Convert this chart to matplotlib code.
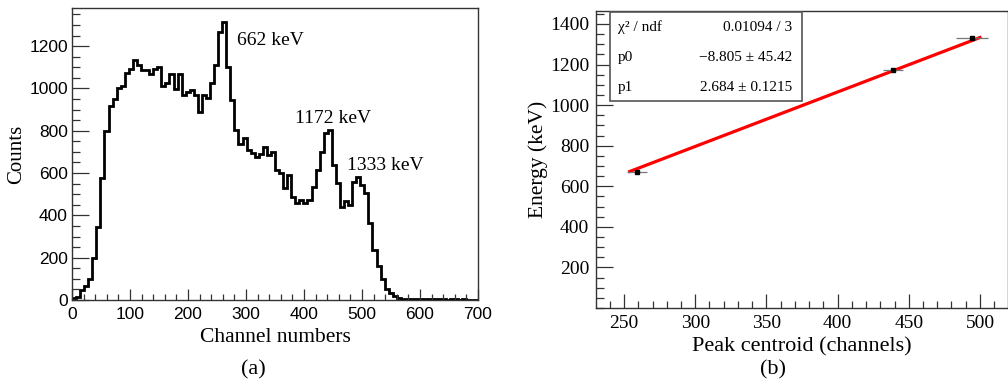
import numpy as np
import matplotlib
matplotlib.use("Agg")
import matplotlib.pyplot as plt
from matplotlib.patches import Rectangle
from matplotlib.ticker import MultipleLocator

# (a) spectrum: 100 bins over 0-700 channels
counts = [
    8, 12, 47, 66, 97, 197, 343, 575, 800, 917,
    950, 1000, 1013, 1071, 1090, 1134, 1110, 1085, 1085, 1070,
    1090, 1102, 1011, 1027, 1068, 995, 1068, 969, 985, 992,
    969, 890, 969, 953, 1024, 1110, 1268, 1315, 1102, 945,
    803, 737, 764, 709, 696, 674, 690, 721, 685, 700,
    614, 598, 528, 590, 488, 457, 472, 457, 472, 535,
    614, 700, 787, 803, 638, 551, 441, 470, 449, 559,
    583, 543, 504, 362, 238, 160, 100, 52, 35, 19,
    8, 5, 4, 3, 3, 6, 3, 5, 4, 3,
    3, 3, 2, 3, 3, 2, 3, 2, 2, 2,
]
channel_range = (0, 700)
peak_labels = ["662 keV", "1172 keV", "1333 keV"]
peak_label_pos = [(285, 1225), (384, 860), (474, 638)]

# (b) calibration
centroids = [259.0, 439.0, 494.5]
centroid_err = [7.0, 7.0, 11.0]
energies = [670, 1174, 1331]
p0, p0_err = -8.805, 45.42
p1, p1_err = 2.684, 0.1215
chi2, ndf = 0.01094, 3
fit_range = (254, 500)

SANS = ["Liberation Sans", "DejaVu Sans"]
SERIF = ["Liberation Serif", "DejaVu Serif"]
W, H = 1008, 383

fig = plt.figure(figsize=(W / 100, H / 100), dpi=100)


def px_axes(x0, y0, x1, y1):
    return fig.add_axes([x0 / W, 1 - y1 / H, (x1 - x0) / W, (y1 - y0) / H])


def root_style(ax, font, major_len, minor_len):
    for side in ["left", "bottom", "top", "right"]:
        ax.spines[side].set_color("#333333")
        ax.spines[side].set_linewidth(1.0)
    ax.tick_params(which="both", direction="in", top=False, right=False,
                   color="#333333", width=0.9)
    ax.tick_params(which="major", length=major_len, pad=5)
    ax.tick_params(which="minor", length=minor_len)
    for lab in ax.get_xticklabels() + ax.get_yticklabels():
        lab.set_family(font)


# ---- (a) ----
ax1 = px_axes(72, 8, 478, 300)
edges = np.linspace(channel_range[0], channel_range[1], len(counts) + 1)
ax1.stairs(counts, edges, color="black", linewidth=2.0)
ax1.set_xlim(*channel_range)
ax1.set_ylim(0, 1380)
ax1.xaxis.set_major_locator(MultipleLocator(100))
ax1.xaxis.set_minor_locator(MultipleLocator(20))
ax1.yaxis.set_major_locator(MultipleLocator(200))
ax1.yaxis.set_minor_locator(MultipleLocator(50))
ax1.tick_params(axis="both", labelsize=12.5)
root_style(ax1, SANS, 12, 6)
ax1.tick_params(axis="y", which="major", pad=3)
ax1.tick_params(axis="x", which="major", length=8)
ax1.tick_params(axis="x", which="minor", length=4)
ax1.set_xlabel("Channel numbers", family=SERIF, fontsize=15.5, labelpad=4)
ax1.set_ylabel("Counts", family=SERIF, fontsize=15, va="center")
ax1.yaxis.set_label_coords((17 - 72) / 406, 0.5)
for text, (x, y) in zip(peak_labels, peak_label_pos):
    ax1.text(x, y, text, family=SERIF, fontsize=14, ha="left", va="center")
fig.text(253 / W, 1 - 370 / H, "(a)", family=SERIF, fontsize=16,
         ha="center", va="center")

# ---- (b) ----
ax2 = px_axes(596, 11, 1008, 308)
ax2.set_xlim(230.3, 519.7)
ax2.set_ylim(0, 1464)
xs = np.array(fit_range)
ax2.plot(xs, p0 + p1 * xs, color="#ff0000", linewidth=2.3, zorder=2)
ax2.errorbar(centroids, energies, xerr=centroid_err, fmt="s", color="black",
             markersize=3, ecolor="#777777", elinewidth=0.9, capsize=0, zorder=3)
ax2.xaxis.set_major_locator(MultipleLocator(50))
ax2.xaxis.set_minor_locator(MultipleLocator(10))
ax2.yaxis.set_major_locator(MultipleLocator(200))
ax2.yaxis.set_minor_locator(MultipleLocator(50))
ax2.set_yticks([200, 400, 600, 800, 1000, 1200, 1400])
ax2.tick_params(axis="both", labelsize=14)
root_style(ax2, SERIF, 12, 6)
ax2.tick_params(axis="x", which="major", length=10)
ax2.tick_params(axis="x", which="minor", length=5)
ax2.set_xlabel("Peak centroid (channels)", family=SERIF, fontsize=16, labelpad=4)
ax2.set_ylabel("Energy (keV)", family=SERIF, fontsize=15.5, va="center")
ax2.yaxis.set_label_coords((538 - 596) / 412, 0.5)

box = Rectangle((0.034, 0.697), 0.466, 0.30, transform=ax2.transAxes,
                facecolor="white", edgecolor="#555555", linewidth=1.2, zorder=4)
ax2.add_patch(box)
rows = [
    ("\u03c7\u00b2 / ndf", f"{chi2:.5f} / {ndf}"),
    ("p0", f"\u2212{abs(p0):.3f} \u00b1 {p0_err:.2f}"),
    ("p1", f"{p1:.3f} \u00b1 {p1_err:.4f}"),
]
for (name, value), yy in zip(rows, [0.946, 0.844, 0.744]):
    ax2.text(0.0534, yy, name, transform=ax2.transAxes, family=SERIF,
             fontsize=11, ha="left", va="center", zorder=5)
    ax2.text(0.4757, yy, value, transform=ax2.transAxes, family=SERIF,
             fontsize=11, ha="right", va="center", zorder=5)
fig.text(773 / W, 1 - 370 / H, "(b)", family=SERIF, fontsize=16,
         ha="center", va="center")

fig.savefig("out.png", dpi=100)
